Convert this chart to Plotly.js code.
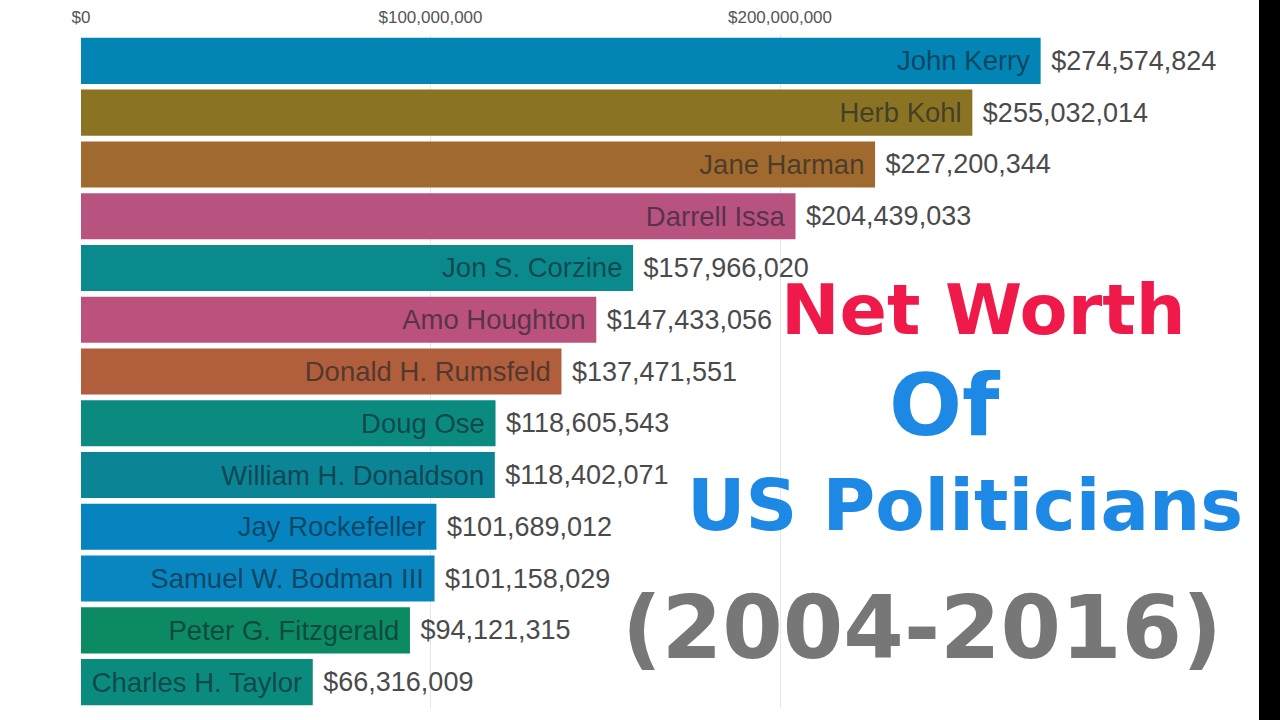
<!DOCTYPE html>
<html>
<head>
<meta charset="utf-8">
<script src="https://cdn.plot.ly/plotly-3.0.1.min.js"></script>
<style>
  html, body { margin: 0; padding: 0; background: #000; }
  #chart { width: 1259px; height: 720px; background: #fff; }
</style>
</head>
<body>
<div id="chart"></div>
<script>
// Data
const names = [
  "John Kerry", "Herb Kohl", "Jane Harman", "Darrell Issa", "Jon S. Corzine",
  "Amo Houghton", "Donald H. Rumsfeld", "Doug Ose", "William H. Donaldson",
  "Jay Rockefeller", "Samuel W. Bodman III", "Peter G. Fitzgerald", "Charles H. Taylor"
];
const netWorth = [
  274574824, 255032014, 227200344, 204439033, 157966020,
  147433056, 137471551, 118605543, 118402071,
  101689012, 101158029, 94121315, 66316009
];
const tickValues = [0, 100000000, 200000000];
const tickLabels = ["$0", "$100,000,000", "$200,000,000"];
const titleLines = ["Net Worth", "Of", "US Politicians", "(2004-2016)"];

// Styles
const barColors = [
  "#0284b5", "#8a7424", "#a06a2e", "#b8527f", "#0b8a8e",
  "#bb527d", "#b05e3c", "#0b8a80", "#0b8496",
  "#0584c0", "#0985bf", "#0c8a63", "#0b8a7e"
];

const nameTrace = {
  type: "bar",
  orientation: "h",
  x: netWorth,
  y: names,
  marker: { color: barColors, line: { width: 0 } },
  text: names.map(n => n + "\u00a0"),
  textposition: "inside",
  insidetextanchor: "end",
  constraintext: "none",
  textfont: { family: "Liberation Sans, Arial, sans-serif", size: 27.5, color: "rgba(20,30,40,0.62)" },
  hoverinfo: "skip",
  cliponaxis: false,
  showlegend: false
};

const valueTrace = {
  type: "bar",
  orientation: "h",
  x: netWorth,
  y: names,
  marker: { color: "rgba(0,0,0,0)" },
  texttemplate: "\u00a0$%{x:,}",
  textposition: "outside",
  constraintext: "none",
  textfont: { family: "Liberation Sans, Arial, sans-serif", size: 27, color: "#4a4a4a" },
  hoverinfo: "skip",
  cliponaxis: false,
  showlegend: false
};

const L = 81, T = 35, W = 1178, H = 673.5;
function px(x) { return (x - L) / W; }
function py(y) { return 1 - (y - T) / H; }

const titleStyles = [
  { x: 983, y: 310, size: 70, color: "#ef1a4a" },
  { x: 945, y: 405, size: 86, color: "#1e88e5" },
  { x: 965, y: 505, size: 72, color: "#1e88e5" },
  { x: 922, y: 628, size: 87, color: "#777777" }
];

const annotations = titleLines.map((t, i) => ({
  text: t,
  xref: "paper", yref: "paper",
  x: px(titleStyles[i].x), y: py(titleStyles[i].y),
  xanchor: "center", yanchor: "middle",
  showarrow: false,
  font: { family: "DejaVu Sans, sans-serif", size: titleStyles[i].size, color: titleStyles[i].color, weight: "bold" }
}));

const layout = {
  width: 1259,
  height: 720,
  margin: { l: L, r: 0, t: T, b: 720 - T - H, pad: 0 },
  paper_bgcolor: "#ffffff",
  plot_bgcolor: "#ffffff",
  barmode: "overlay",
  bargap: 0.11,
  xaxis: {
    side: "top",
    range: [0, W / 3.495e-6],
    tickvals: tickValues,
    ticktext: tickLabels,
    tickfont: { family: "Liberation Sans, Arial, sans-serif", size: 17, color: "#555555" },
    ticks: "",
    ticklabelstandoff: 8,
    showgrid: true,
    gridcolor: "#e6e6e6",
    gridwidth: 1,
    zeroline: false,
    showline: false,
    fixedrange: true
  },
  yaxis: {
    type: "category",
    range: [names.length - 0.5, -0.5],
    showticklabels: false,
    showgrid: false,
    zeroline: false,
    showline: false,
    ticks: "",
    fixedrange: true
  },
  annotations: annotations
};

Plotly.newPlot("chart", [nameTrace, valueTrace], layout, { displayModeBar: false, staticPlot: true });
</script>
</body>
</html>
